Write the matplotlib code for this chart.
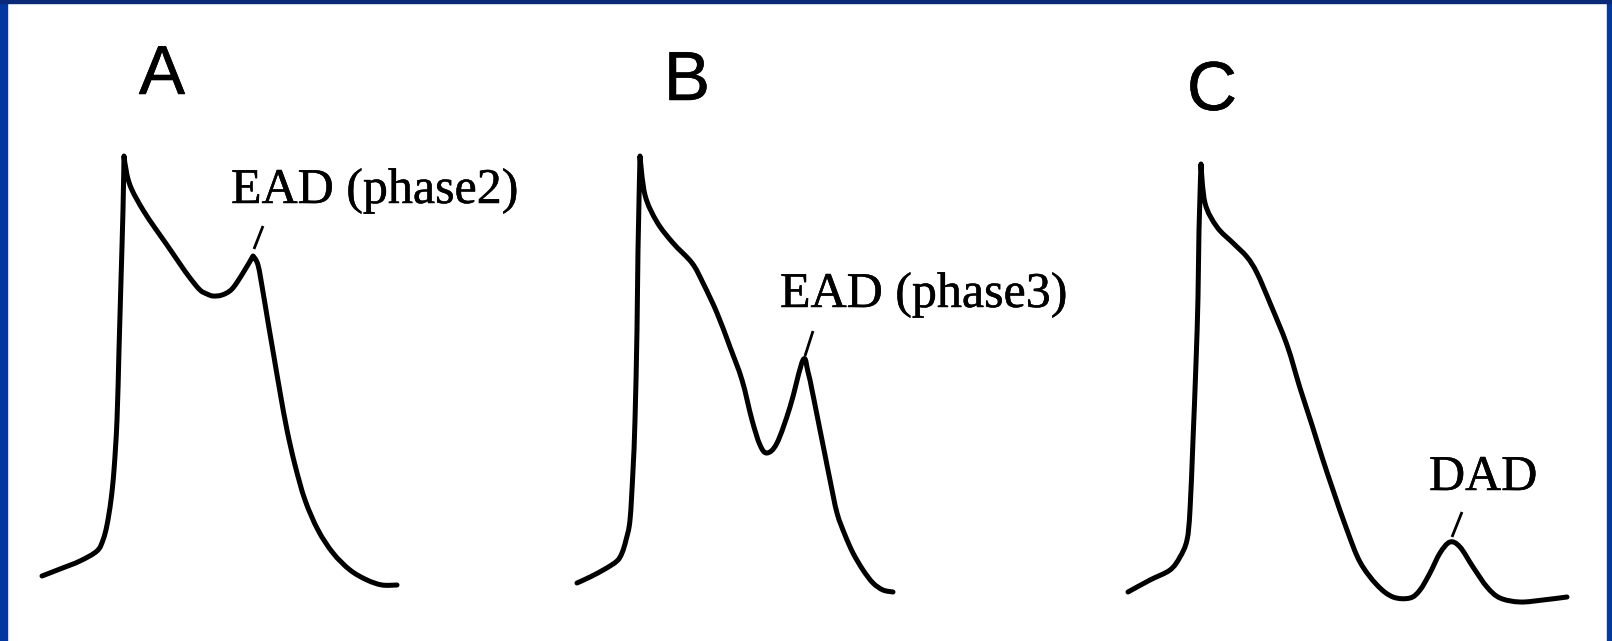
import matplotlib
matplotlib.use("Agg")
import matplotlib.pyplot as plt
from matplotlib.patches import Rectangle, PathPatch
from matplotlib.path import Path
import matplotlib.patheffects as pe

# ---- Data: traced action-potential waveforms (x = time px, y = potential px, top-down) ----
trace_a_x = [42, 60, 80, 97, 103, 107, 111, 114, 117, 119, 121, 123, 124, 127, 132, 143, 155, 167,
             180, 190, 200, 207, 213, 222, 232, 243, 253, 258, 263, 268, 274, 280, 287, 295, 305,
             318, 333, 350, 367, 382, 397]
trace_a_y = [576, 569, 561, 551, 540, 525, 500, 470, 420, 350, 280, 210, 156, 175, 190, 210, 228, 245,
             264, 278, 290, 294, 296, 295, 289, 273, 256, 265, 292, 322, 357, 392, 430, 465, 500,
             530, 553, 570, 580, 585, 585]

trace_b_x = [577, 590, 605, 617, 622, 626, 630, 633, 635, 637, 638, 640, 645, 657, 673, 692, 703, 717,
             730, 742, 752, 760, 767, 777, 790, 803, 808, 812, 816, 820, 825, 830, 837, 845, 853, 863,
             873, 883, 893]
trace_b_y = [583, 577, 569, 561, 553, 540, 520, 470, 420, 330, 250, 156, 195, 222, 243, 263, 283, 313,
             347, 380, 420, 445, 453, 443, 407, 360, 372, 390, 410, 430, 455, 480, 513, 535, 553, 570,
             583, 590, 592]

trace_c_x = [1128, 1150, 1170, 1180, 1187, 1190, 1193, 1196, 1198, 1199, 1201, 1205, 1217, 1233,
             1247, 1257, 1270, 1287, 1300, 1312, 1322, 1333, 1347, 1360, 1377, 1393, 1410, 1420, 1430,
             1440, 1450, 1460, 1473, 1487, 1500, 1520, 1543, 1567]
trace_c_y = [592, 580, 570, 557, 540, 510, 440, 363, 297, 230, 164, 203, 227, 243, 257, 273, 303,
             345, 388, 425, 457, 490, 530, 562, 585, 597, 598, 590, 573, 553, 542, 547, 567, 587, 598,
             602, 600, 597]

panel_labels = ["A", "B", "C"]
annotations = ["EAD (phase2)", "EAD (phase3)", "DAD"]

# ---- Layout (positions / styles) ----
W, H = 1612, 641
fig = plt.figure(figsize=(W / 100, H / 100), dpi=100)
fig.patch.set_facecolor("white")
ax = fig.add_axes([0, 0, 1, 1])
ax.set_xlim(0, W)
ax.set_ylim(H, 0)
ax.axis("off")

# blue slide frame
ax.add_patch(Rectangle((0, 0), 7, H, color="#0537a0", zorder=5))
ax.add_patch(Rectangle((1607, 0), 5, H, color="#0537a0", zorder=5))
ax.add_patch(Rectangle((0, 0), W, 3, color="#0a2a78", zorder=5))


def smooth_path(xs, ys, corners=()):
    """Catmull-Rom curve through the points, drawn as cubic Bezier segments."""
    pts = list(zip(xs, ys))
    n = len(pts)
    tang = []
    for i in range(n):
        if i in corners:
            tang.append((0.0, 0.0))
            continue
        p0 = pts[max(i - 1, 0)]
        p2 = pts[min(i + 1, n - 1)]
        tang.append(((p2[0] - p0[0]) / 6.0, (p2[1] - p0[1]) / 6.0))
    verts = [pts[0]]
    codes = [Path.MOVETO]
    for i in range(n - 1):
        p1, p2 = pts[i], pts[i + 1]
        c1 = (p1[0] + tang[i][0], p1[1] + tang[i][1])
        c2 = (p2[0] - tang[i + 1][0], p2[1] - tang[i + 1][1])
        verts += [c1, c2, p2]
        codes += [Path.CURVE4] * 3
    return Path(verts, codes)


patch_kw = dict(facecolor="none", edgecolor="black", lw=3.6, capstyle="round", joinstyle="round")
ax.add_patch(PathPatch(smooth_path(trace_a_x, trace_a_y, corners=(12, 26)), **patch_kw))
ax.add_patch(PathPatch(smooth_path(trace_b_x, trace_b_y, corners=(11,)), **patch_kw))
ax.add_patch(PathPatch(smooth_path(trace_c_x, trace_c_y, corners=(10,)), **patch_kw))

# pointer ticks
tick_kw = dict(color="black", lw=2.0, solid_capstyle="butt")
ax.plot([254, 263], [249, 226], **tick_kw)
ax.plot([805, 813], [356, 331], **tick_kw)
ax.plot([1452, 1462], [537, 512], **tick_kw)

light_fx = [pe.withStroke(linewidth=0.35, foreground="black")]

# panel letters
label_pos = [(162, 94), (687, 100), (1212, 110)]
for lab, (x, y) in zip(panel_labels, label_pos):
    ax.text(x, y, lab, fontsize=50, family="Liberation Sans", ha="center", va="baseline",
            path_effects=light_fx)

# annotations
ann_pos = [(231, 203), (780, 307), (1429, 490)]
for txt, (x, y) in zip(annotations, ann_pos):
    ax.text(x, y, txt, fontsize=36, family="Liberation Serif", ha="left", va="baseline",
            path_effects=light_fx)

fig.savefig("out.png", dpi=100, facecolor="white")
